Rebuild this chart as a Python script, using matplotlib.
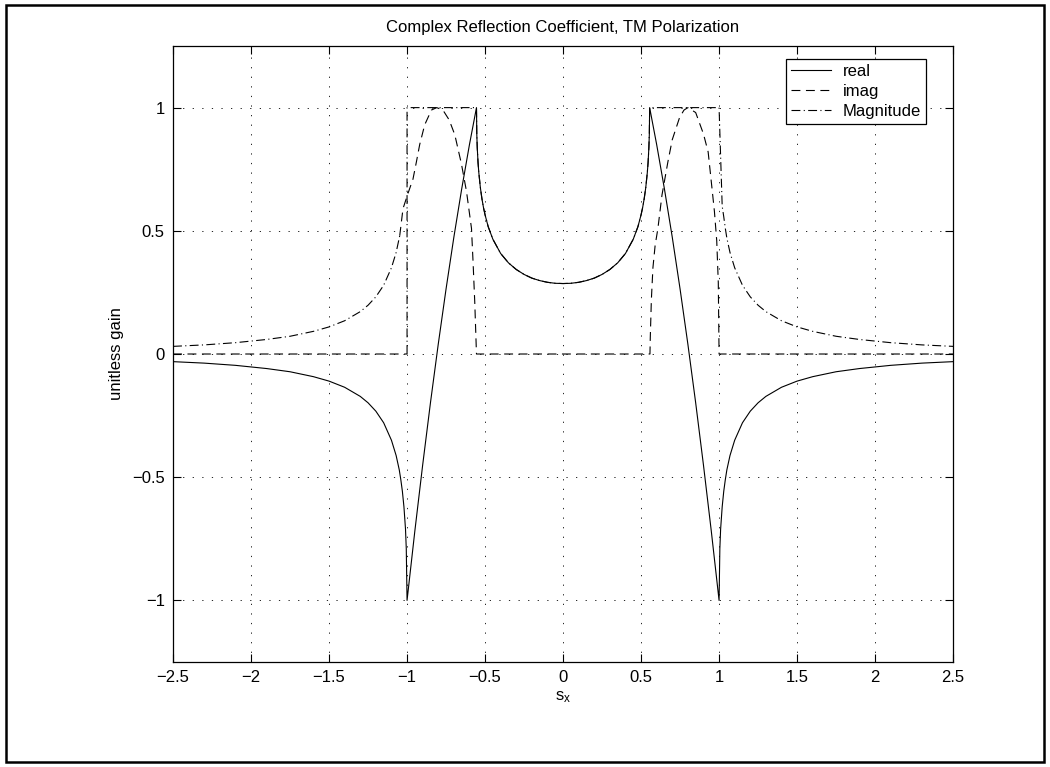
import numpy as np
import matplotlib
matplotlib.use("Agg")
import matplotlib.pyplot as plt
from matplotlib.patches import Rectangle

plt.rcParams['font.family'] = ['Liberation Sans', 'DejaVu Sans']
plt.rcParams['mathtext.default'] = 'regular'

nan = float('nan')

# ---- data ----
# real part (solid)
real_x = [-2.5, -2.3, -2.1, -1.9, -1.75, -1.6, -1.5, -1.4, -1.3, -1.25, -1.2, -1.15, -1.1,
          -1.07, -1.05, -1.04, -1.03, -1.02, -1.01, -1.005, -1.0,
          -0.95, -0.9, -0.85, -0.8, -0.75, -0.7, -0.65, -0.6, -0.555,
          -0.553, -0.55, -0.545, -0.54, -0.53, -0.52, -0.51, -0.5, -0.48, -0.45, -0.4,
          -0.35, -0.3, -0.25, -0.2, -0.15, -0.1, -0.05, 0.0,
          0.05, 0.1, 0.15, 0.2, 0.25, 0.3, 0.35, 0.4, 0.45, 0.48, 0.5, 0.51, 0.52,
          0.53, 0.54, 0.545, 0.55, 0.553,
          0.555, 0.6, 0.65, 0.7, 0.75, 0.8, 0.85, 0.9, 0.95, 1.0,
          1.005, 1.01, 1.02, 1.03, 1.04, 1.05, 1.07, 1.1, 1.15, 1.2, 1.25, 1.3, 1.4,
          1.5, 1.6, 1.75, 1.9, 2.1, 2.3, 2.5]
real_y = [-0.031, -0.037, -0.046, -0.059, -0.072, -0.092, -0.11, -0.135, -0.172, -0.198, -0.232, -0.279, -0.35,
          -0.412, -0.47, -0.51, -0.557, -0.62, -0.71, -0.79, -1.0,
          -0.718, -0.451, -0.198, 0.04, 0.264, 0.474, 0.669, 0.85, 1.0,
          0.893, 0.837, 0.777, 0.736, 0.675, 0.63, 0.594, 0.565, 0.517, 0.466, 0.408,
          0.37, 0.343, 0.323, 0.308, 0.298, 0.291, 0.287, 0.286,
          0.287, 0.291, 0.298, 0.308, 0.323, 0.343, 0.37, 0.408, 0.466, 0.517, 0.565, 0.594, 0.63,
          0.675, 0.736, 0.777, 0.837, 0.893,
          1.0, 0.85, 0.669, 0.474, 0.264, 0.04, -0.198, -0.451, -0.718, -1.0,
          -0.79, -0.71, -0.62, -0.557, -0.51, -0.47, -0.412, -0.35, -0.279, -0.232, -0.198, -0.172, -0.135,
          -0.11, -0.092, -0.072, -0.059, -0.046, -0.037, -0.031]

# imaginary part (dashed)
imag_x = [-2.5, -1.0, nan,
          -1.047, -1.026, -0.995, -0.962, -0.94, -0.919, -0.887, -0.844, -0.81, -0.77, -0.73,
          -0.694, -0.651, -0.619, -0.587, -0.577, -0.566, -0.555,
          0.557, 0.559, 0.566, 0.576, 0.59, 0.608, 0.634, 0.672, 0.7, 0.747, 0.775, 0.8,
          0.85, 0.9, 0.93, 0.95, 0.97, 0.985, 0.995, 1.0, 2.5]
imag_y = [0.0, 0.0, nan,
          0.48, 0.59, 0.65, 0.71, 0.78, 0.85, 0.93, 0.99, 1.0, 0.99, 0.95,
          0.89, 0.77, 0.66, 0.51, 0.375, 0.21, 0.0,
          0.0, 0.065, 0.22, 0.35, 0.44, 0.51, 0.645, 0.78, 0.87, 0.96, 0.99, 1.0,
          0.98, 0.893, 0.82, 0.70, 0.58, 0.46, 0.29, 0.0, 0.0]

# magnitude (dash-dot)
mag_x = [-2.5, -2.3, -2.1, -1.9, -1.75, -1.6, -1.5, -1.4, -1.3, -1.25, -1.2, -1.15, -1.1,
         -1.07, -1.047, nan,
         -1.0, -1.0, -0.555,
         -0.553, -0.55, -0.545, -0.54, -0.53, -0.52, -0.51, -0.5, -0.48, -0.45, -0.4,
         -0.35, -0.3, -0.25, -0.2, -0.15, -0.1, -0.05, 0.0,
         0.05, 0.1, 0.15, 0.2, 0.25, 0.3, 0.35, 0.4, 0.45, 0.48, 0.5, 0.51, 0.52,
         0.53, 0.54, 0.545, 0.55, 0.553,
         0.555, 1.0, 1.02, 1.03, 1.04, 1.05, 1.07, 1.1, 1.15, 1.2, 1.25, 1.3, 1.4,
         1.5, 1.6, 1.75, 1.9, 2.1, 2.3, 2.5]
mag_y = [0.031, 0.037, 0.046, 0.059, 0.072, 0.092, 0.11, 0.135, 0.172, 0.198, 0.232, 0.279, 0.35,
         0.412, 0.48, nan,
         0.0, 1.0, 1.0,
         0.893, 0.837, 0.777, 0.736, 0.675, 0.63, 0.594, 0.565, 0.517, 0.466, 0.408,
         0.37, 0.343, 0.323, 0.308, 0.298, 0.291, 0.287, 0.286,
         0.287, 0.291, 0.298, 0.308, 0.323, 0.343, 0.37, 0.408, 0.466, 0.517, 0.565, 0.594, 0.63,
         0.675, 0.736, 0.777, 0.837, 0.893,
         1.0, 1.0, 0.6, 0.557, 0.51, 0.47, 0.412, 0.35, 0.279, 0.232, 0.198, 0.172, 0.135,
         0.11, 0.092, 0.072, 0.059, 0.046, 0.037, 0.031]

xticks = [-2.5, -2, -1.5, -1, -0.5, 0, 0.5, 1, 1.5, 2, 2.5]
xticklabels = ['\u22122.5', '\u22122', '\u22121.5', '\u22121', '\u22120.5', '0',
               '0.5', '1', '1.5', '2', '2.5']
yticks = [-1, -0.5, 0, 0.5, 1]
yticklabels = ['\u22121', '\u22120.5', '0', '0.5', '1']

# ---- figure ----
fig = plt.figure(figsize=(10.5, 7.67), dpi=100)
ax = fig.add_axes([0.1648, 0.1369, 0.7429, 0.8031])

lw = 0.8
ax.plot(real_x, real_y, color='black', lw=lw, label='real')
ax.plot(imag_x, imag_y, color='black', lw=lw, dashes=(8, 5), label='imag')
ax.plot(mag_x, mag_y, color='black', lw=lw, dashes=(8, 3, 1, 3), label='Magnitude')

ax.set_xlim(-2.5, 2.5)
ax.set_ylim(-1.25, 1.25)
ax.set_xticks(xticks)
ax.set_xticklabels(xticklabels)
ax.set_yticks(yticks)
ax.set_yticklabels(yticklabels)
ax.tick_params(direction='in', top=True, right=True, length=6, width=0.8,
               labelsize=12, pad=6)
ax.grid(True, color='black', lw=0.6, linestyle=(0, (1.5, 10)))
for sp in ax.spines.values():
    sp.set_linewidth(0.9)

ax.set_title('Complex Reflection Coefficient, TM Polarization', fontsize=12, pad=10)
ax.set_xlabel('s$_x$', fontsize=12, labelpad=3)
ax.set_ylabel('unitless gain', fontsize=12, labelpad=6)

leg = ax.legend(loc='upper right', bbox_to_anchor=(0.965, 0.979), borderaxespad=0,
                fontsize=12, handlelength=2.4, handletextpad=0.7,
                borderpad=0.3, labelspacing=0.3, fancybox=False, framealpha=1,
                edgecolor='black')
leg.get_frame().set_linewidth(0.9)

fig.patches.append(Rectangle((0.006, 0.006), 0.988, 0.988, transform=fig.transFigure,
                             fill=False, edgecolor='black', lw=1.8))

fig.savefig('out.png', dpi=100)
